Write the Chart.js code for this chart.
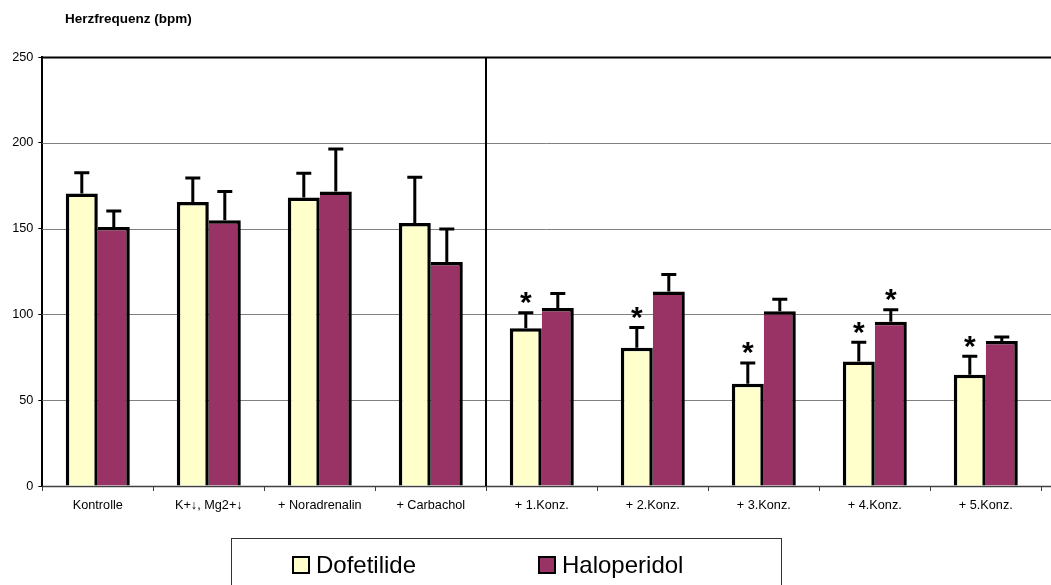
<!DOCTYPE html>
<html>
<head>
<meta charset="utf-8">
<script src="https://cdn.jsdelivr.net/npm/chart.js@4/dist/chart.umd.min.js"></script>
<style>
    html, body { margin: 0; padding: 0; background: #fff; }
    #wrap { position: relative; width: 1051px; height: 585px; overflow: hidden; }
    .hf-legend {
        position: absolute; left: 231px; top: 538px; width: 549px; height: 70px;
        border: 1px solid #333; font-family: "Liberation Sans", Arial, sans-serif;
        font-size: 24px; color: #000;
    }
    .hf-legend__item { position: absolute; top: 12px; height: 28px; display: flex; align-items: center; }
    .hf-legend__box { width: 14px; height: 14px; border: 2px solid #000; margin-right: 6px; }
</style>
</head>
<body>
<div id="wrap">
    <canvas id="hf-chart"></canvas>
    <div class="hf-legend" id="hf-legend"></div>
</div>
<script>
// ── Data ──
const categories = ['Kontrolle', 'K+↓, Mg2+↓', '+ Noradrenalin', '+ Carbachol',
                    '+ 1.Konz.', '+ 2.Konz.', '+ 3.Konz.', '+ 4.Konz.', '+ 5.Konz.'];
const dofetilideMean  = [170.4, 165.5, 168.1, 153.3, 92.0, 80.6, 59.6, 72.5, 64.8];
const dofetilideSD    = [12.2, 14.0, 14.1, 26.6, 8.9, 11.7, 12.1, 11.2, 10.8];
const haloperidolMean = [151.0, 154.9, 171.6, 130.6, 103.7, 113.3, 101.9, 95.7, 84.5];
const haloperidolSD   = [9.3, 16.7, 24.8, 19.1, 8.5, 10.0, 7.0, 7.0, 2.3];
const dofetilideSig   = [false, false, false, false, true, true, true, true, true];
const haloperidolSig  = [false, false, false, false, false, false, false, true, false];
const yTicks = [0, 50, 100, 150, 200, 250];

const FONT = '"Liberation Sans", Arial, sans-serif';
const SERIES = [
    { label: 'Dofetilide',  mean: dofetilideMean,  sd: dofetilideSD,  sig: dofetilideSig,  color: '#FFFFCC' },
    { label: 'Haloperidol', mean: haloperidolMean, sd: haloperidolSD, sig: haloperidolSig, color: '#993366' },
];

// ── Grid, separator, error bars and title ──
const framePlugin = {
    id: 'frame',
    beforeDatasetsDraw(chart) {
        const { ctx, chartArea, scales: { x, y } } = chart;
        ctx.save();
        yTicks.forEach(v => {
            const py = Math.round(y.getPixelForValue(v)) + 0.5;
            if (v === 250)      { ctx.strokeStyle = '#000';    ctx.lineWidth = 2; }
            else if (v === 0)   { ctx.strokeStyle = '#404040'; ctx.lineWidth = 1.5; }
            else                { ctx.strokeStyle = '#808080'; ctx.lineWidth = 1; }
            ctx.beginPath();
            ctx.moveTo(chartArea.left, py);
            ctx.lineTo(chart.width, py);
            ctx.stroke();
        });
        // separator between baseline and concentration steps
        const sx = Math.round(x.getPixelForValue(3.5));
        ctx.strokeStyle = '#000';
        ctx.lineWidth = 2;
        ctx.beginPath();
        ctx.moveTo(sx, chartArea.top);
        ctx.lineTo(sx, chartArea.bottom);
        ctx.stroke();
        ctx.restore();
    },
    afterDatasetsDraw(chart) {
        const { ctx, scales: { y } } = chart;
        ctx.save();
        ctx.strokeStyle = '#000';
        ctx.fillStyle = '#000';
        ctx.lineWidth = 3;
        SERIES.forEach((s, i) => {
            chart.getDatasetMeta(i).data.forEach((bar, j) => {
                const top = y.getPixelForValue(s.mean[j] + s.sd[j]);
                ctx.beginPath();
                ctx.moveTo(bar.x, bar.y);
                ctx.lineTo(bar.x, top);
                ctx.moveTo(bar.x - 7.5, top);
                ctx.lineTo(bar.x + 7.5, top);
                ctx.stroke();
                if (s.sig[j]) {
                    ctx.font = `bold 30px ${FONT}`;
                    ctx.textAlign = 'center';
                    ctx.textBaseline = 'middle';
                    ctx.fillText('*', bar.x, top - 16 + 7);
                }
            });
        });
        ctx.restore();
    },
    afterDraw(chart) {
        const { ctx } = chart;
        ctx.save();
        ctx.font = `bold 13.5px ${FONT}`;
        ctx.fillStyle = '#000';
        ctx.textAlign = 'left';
        ctx.textBaseline = 'alphabetic';
        ctx.fillText('Herzfrequenz (bpm)', 65, 23);
        ctx.restore();
    },
};

// ── Chart ──
new Chart(document.getElementById('hf-chart'), {
    type: 'bar',
    data: {
        labels: categories,
        datasets: SERIES.map((s, i) => ({
            label: s.label,
            data: s.mean,
            backgroundColor: s.color,
            borderColor: '#000',
            borderWidth: i === 0 ? { top: 3.5, left: 3.5, right: 3.5, bottom: 0 }
                                 : { top: 3.5, left: 0, right: 3.5, bottom: 0 },
            borderSkipped: 'start',
            categoryPercentage: 64 / 111,
            barPercentage: 1,
        })),
    },
    options: {
        responsive: true,
        maintainAspectRatio: false,
        animation: false,
        layout: { padding: { top: 57, right: 9.7, left: 0, bottom: 0 } },
        plugins: { legend: { display: false }, tooltip: { enabled: false } },
        scales: {
            x: {
                grid:   { drawOnChartArea: false, drawTicks: true, tickLength: 5, color: '#404040' },
                border: { display: false },
                ticks:  { color: '#000', font: { family: FONT, size: 12.7 }, padding: 7, maxRotation: 0, autoSkip: false },
                afterFit: s => { s.height = 99; },
            },
            y: {
                min: 0, max: 250,
                grid:   { drawOnChartArea: false, drawTicks: true, tickLength: 4, tickColor: '#000' },
                border: { color: '#000', width: 2 },
                ticks:  { stepSize: 50, color: '#000', font: { family: FONT, size: 12.7 }, padding: 5 },
                afterFit: s => { s.width = 42.3; },
            },
        },
    },
    plugins: [framePlugin],
});

// ── Legend ──
const legendOffsets = [60, 306];
document.getElementById('hf-legend').innerHTML = SERIES.map((s, i) => `
    <div class="hf-legend__item" style="left:${legendOffsets[i]}px;">
        <span class="hf-legend__box" style="background:${s.color};"></span>${s.label}
    </div>`).join('');
</script>
</body>
</html>
